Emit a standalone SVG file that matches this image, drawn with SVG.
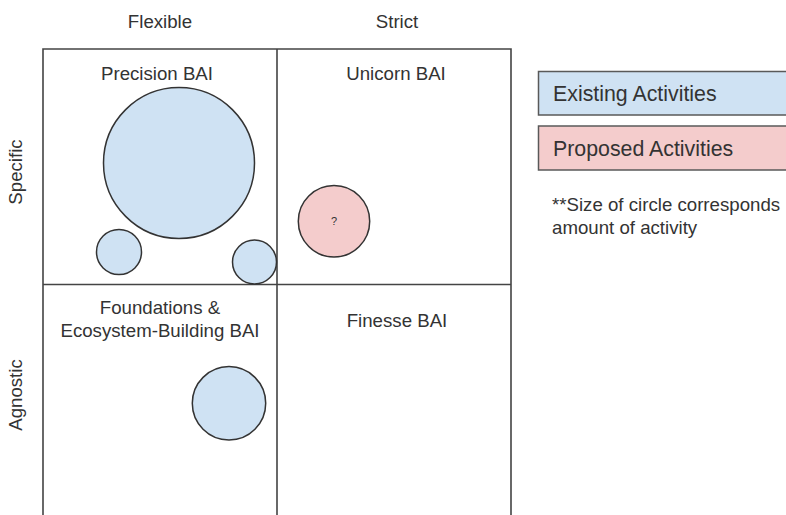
<svg xmlns="http://www.w3.org/2000/svg" width="786" height="515" viewBox="0 0 786 515">
  <style>
    text { font-family: "Liberation Sans", Arial, sans-serif; fill: #333333; }
    .lbl { font-size: 18.67px; text-anchor: middle; }
    .leg { font-size: 21.33px; }
    .note { font-size: 18.67px; }
    .grid { stroke: #444444; stroke-width: 1.6; fill: none; }
    .existing { fill: #cfe2f3; stroke: #333333; stroke-width: 1.5; }
    .proposed { fill: #f4cccc; stroke: #333333; stroke-width: 1.5; }
    .legbox { stroke: #595959; stroke-width: 1.5; }
  </style>
  <rect width="786" height="515" fill="#ffffff"/>

  <!-- axis headings -->
  <g id="axis-labels">
    <text class="lbl" x="160" y="28">Flexible</text>
    <text class="lbl" x="397" y="28">Strict</text>
    <text class="lbl" transform="translate(22,172) rotate(-90)">Specific</text>
    <text class="lbl" transform="translate(22,395) rotate(-90)">Agnostic</text>
  </g>

  <!-- quadrant grid -->
  <g id="grid">
    <path class="grid" d="M43,520 V49 H511 V520 M277,49 V520 M43,284.5 H511"/>
  </g>

  <!-- quadrant titles -->
  <g id="q-precision"><text class="lbl" x="157" y="80">Precision BAI</text></g>
  <g id="q-unicorn"><text class="lbl" x="396" y="80">Unicorn BAI</text></g>
  <g id="q-foundations">
    <text class="lbl" x="160" y="314">Foundations &amp;</text>
    <text class="lbl" x="160" y="337">Ecosystem-Building BAI</text>
  </g>
  <g id="q-finesse"><text class="lbl" x="397" y="327">Finesse BAI</text></g>

  <!-- activity circles -->
  <g id="c-precision-large"><circle class="existing" cx="179" cy="163" r="75.5"/></g>
  <g id="c-precision-small-left"><circle class="existing" cx="119" cy="252" r="22.5"/></g>
  <g id="c-precision-small-right"><circle class="existing" cx="254.5" cy="262" r="22"/></g>
  <g id="c-unicorn-proposed">
    <circle class="proposed" cx="334" cy="221.3" r="35.7"/>
    <text x="334" y="225" font-size="11" text-anchor="middle">?</text>
  </g>
  <g id="c-foundations"><circle class="existing" cx="229" cy="403.3" r="36.7"/></g>

  <!-- legend -->
  <g id="legend-existing">
    <rect class="legbox" x="538.5" y="71.5" width="260" height="43.5" fill="#cfe2f3"/>
    <text class="leg" x="553" y="101">Existing Activities</text>
  </g>
  <g id="legend-proposed">
    <rect class="legbox" x="538.5" y="126" width="260" height="44" fill="#f4cccc"/>
    <text class="leg" x="553" y="156">Proposed Activities</text>
  </g>
  <g id="legend-note">
    <text class="note" x="552" y="211">**Size of circle corresponds</text>
    <text class="note" x="552" y="234">amount of activity</text>
  </g>
</svg>
